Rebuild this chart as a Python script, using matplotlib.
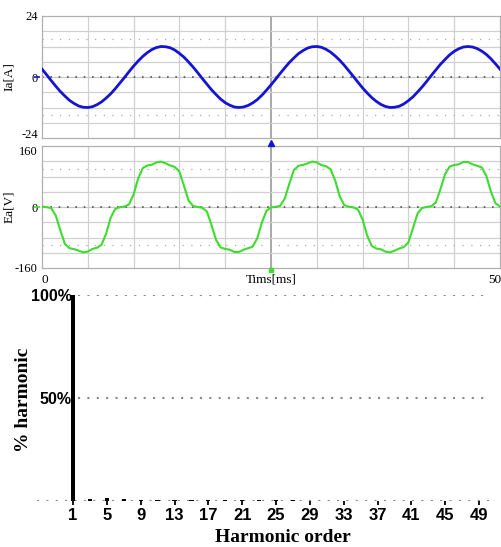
import numpy as np
import matplotlib
matplotlib.use('Agg')
import matplotlib.pyplot as plt
from matplotlib.transforms import ScaledTranslation

# time base of the scope capture, 0.5 ms per sample
t_ms = np.arange(0, 50.5, 0.5)

# phase current Ia [A]
ia = [3.1, 0.9, -1.4, -3.6, -5.7, -7.5, -9.2, -10.4, -11.4, -11.9,
      -12.0, -11.7, -10.9, -9.8, -8.3, -6.6, -4.6, -2.4, -0.2, 2.1,
      4.3, 6.3, 8.1, 9.6, 10.8, 11.6, 12.0, 11.9, 11.5, 10.6,
      9.3, 7.8, 5.9, 3.9, 1.7, -0.6, -2.8, -5.0, -6.9, -8.7,
      -10.1, -11.1, -11.8, -12.0, -11.8, -11.2, -10.2, -8.9, -7.2, -5.2,
      -3.1, -0.9, 1.4, 3.6, 5.7, 7.5, 9.2, 10.4, 11.4, 11.9,
      12.0, 11.7, 10.9, 9.8, 8.3, 6.6, 4.6, 2.4, 0.2, -2.1,
      -4.3, -6.3, -8.1, -9.6, -10.8, -11.6, -12.0, -11.9, -11.5, -10.6,
      -9.3, -7.8, -5.9, -3.9, -1.7, 0.6, 2.8, 5.0, 6.9, 8.7,
      10.1, 11.1, 11.8, 12.0, 11.8, 11.2, 10.2, 8.9, 7.2, 5.2,
      3.1]

# back emf Ea [V]
ea = [1, -0.3, -3, -22, -61, -97, -108, -110.5, -114.5, -119,
      -117, -110, -107, -99, -70, -28, -5, -0.5, 1, 7,
      33, 75, 102, 109, 111, 117, 119, 114.5, 109, 105,
      93, 55.5, 17, 2.5, 0, -2, -12, -47, -86, -106,
      -110, -112, -118, -118, -112, -108, -104, -82, -41, -10,
      -1, 0.3, 3, 22, 61, 97, 108, 110.5, 114.5, 119,
      117, 110, 107, 99, 70, 28, 5, 0.5, -1, -7,
      -33, -75, -102, -109, -111, -117, -119, -114.5, -109, -105,
      -93, -55.5, -17, -2.5, 0, 2, 12, 47, 86, 106,
      110, 112, 118, 118, 112, 108, 104, 82, 41, 10,
      1]

# harmonic spectrum of Ea
harm_order = [1, 3, 5, 7, 9, 11, 13, 15, 17, 19, 21, 23, 25,
              27, 29, 31, 33, 35, 37, 39, 41, 43, 45, 47, 49]
harm_pct = [100, 0.8, 1.5, 0.8, 0.4, 0.6, 0.3, 0.5, 0.3, 0.5, 0.3, 0.5, 0.3,
            0.5, 0.2, 0.2, 0.2, 0.2, 0.2, 0.2, 0.2, 0.2, 0.2, 0.2, 0.2]
harm_ticks = [1, 5, 9, 13, 17, 21, 25, 29, 33, 37, 41, 45, 49]

W, H = 502, 547
fig = plt.figure(figsize=(W / 100, H / 100), dpi=100)

serif = 'Liberation Serif'
sans = 'Liberation Sans'


def scope_axes(ax, data, ymax, color, lw, ylabel):
    ax.set_xlim(0, 50)
    ax.set_ylim(-ymax, ymax)
    # solid grid
    for x in range(5, 50, 5):
        ax.axvline(x, color='#999999' if x == 25 else '#d0d0d0',
                   lw=1.2 if x == 25 else 0.9, zorder=1)
    for k in range(-3, 4):
        if k != 0:
            ax.axhline(ymax * k / 4, color='#d0d0d0', lw=0.9, zorder=1)
    for s in (-1, 1):
        ax.axhline(s * ymax * 0.625, color='#aaaaaa', lw=0.9,
                   ls=(0, (1, 6)), zorder=1)
    ax.axhline(0, color='#c8c8c8', lw=0.9, zorder=1)
    ax.axhline(0, color='#555555', lw=1.2, ls=(0, (1, 4)), zorder=1)
    ax.plot(t_ms, data, color=color, lw=lw, zorder=3)
    for sp in ax.spines.values():
        sp.set_color('#b0b0b0')
        sp.set_linewidth(0.9)
    ax.set_yticks([-ymax, 0, ymax])
    ax.set_yticklabels([str(-ymax), '0', str(ymax)], family=serif, fontsize=9)
    ax.tick_params(axis='both', length=0, pad=3)
    ax.set_ylabel(ylabel, family=serif, fontsize=9.5, labelpad=2)
    # channel marker next to the zero label
    ax.plot([-0.6], [0], marker='_', color=color, ms=5, mew=1.2, clip_on=False)


ax1 = fig.add_axes([42 / W, 1 - 138 / H, 458 / W, 122 / H])
scope_axes(ax1, ia, 24, '#1414d2', 2.0, 'Ia[A]')
ax1.set_xticks([])

ax2 = fig.add_axes([42 / W, 1 - 268 / H, 458 / W, 122 / H])
scope_axes(ax2, ea, 160, '#3ddc2e', 1.5, 'Ea[V]')
ax2.set_xticks([0.3, 25, 49.4])
ax2.set_xticklabels(['0', 'Tims[ms]', '50'], family=serif, fontsize=9.5)
ax2.tick_params(axis='x', pad=4)
ax1.yaxis.set_label_coords(-0.058, 0.5)
ax2.yaxis.set_label_coords(-0.058, 0.5)

# keep "-24" and "160" from running into each other
lab = ax1.get_yticklabels()[0]
lab.set_transform(lab.get_transform() + ScaledTranslation(0, 3 / 72, fig.dpi_scale_trans))
lab = ax2.get_yticklabels()[2]
lab.set_transform(lab.get_transform() + ScaledTranslation(0, -3 / 72, fig.dpi_scale_trans))

# trigger markers
ax2.plot([25], [168], marker='^', color='#1414d2', ms=4, clip_on=False, zorder=5)
ax2.plot([25], [-166], marker='s', color='#3ddc2e', ms=2.5, clip_on=False, zorder=5)

# harmonic spectrum
ax3 = fig.add_axes([37 / W, 1 - 501 / H, 453 / W, 206 / H])
ax3.set_xlim(-3.26, 50.3)
ax3.set_ylim(0, 100)
ax3.hlines(0, -3.26, 50.3, color='#888888', lw=1.5, ls=(0, (1, 3.5)), zorder=1)
ax3.hlines([50, 100], 1.6, 50.3, color='#888888', lw=1.5, ls=(0, (1, 3.5)), zorder=1)
ax3.bar(harm_order, harm_pct, width=0.5, color='black', zorder=3, clip_on=False)
for sp in ax3.spines.values():
    sp.set_visible(False)
ax3.set_xticks(harm_ticks)
ax3.set_xticklabels([str(h) for h in harm_ticks], family=sans,
                    fontweight='bold', fontsize=12)
ax3.tick_params(axis='x', length=3, width=1.3, color='black', pad=2)
ax3.set_yticks([50, 100])
ax3.set_yticklabels(['50%', '100%'], family=sans, fontweight='bold', fontsize=11.5)
ax3.tick_params(axis='y', length=0, pad=-25)

fig.text(24 / W, 1 - 400 / H, '% harmonic', rotation=90, family=serif,
         fontweight='bold', fontsize=14, ha='center', va='center')
fig.text(283 / W, 1 - 538 / H, 'Harmonic order', family=serif,
         fontweight='bold', fontsize=14, ha='center', va='center')

fig.savefig('out.png', dpi=100)
